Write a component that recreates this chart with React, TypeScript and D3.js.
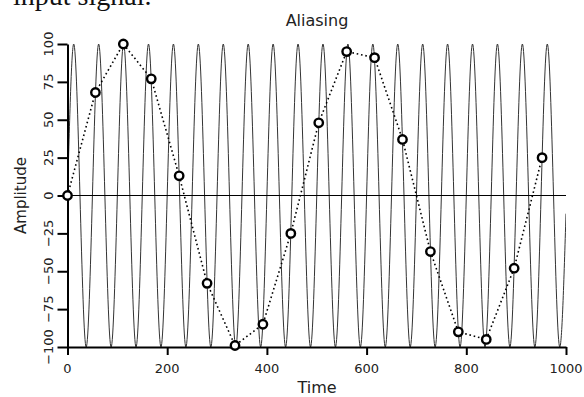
import React, { useEffect, useRef } from 'react';
import * as d3 from 'd3';

// high frequency input (peaks / troughs)
const carrierPeaks = [12.5, 62.5, 112.5, 162.5, 212.5, 262.5, 312.5, 362.5, 412.5, 462.5,
  512.5, 562.5, 612.5, 662.5, 712.5, 762.5, 812.5, 862.5, 912.5, 962.5];
const carrierTroughs = [37.5, 87.5, 137.5, 187.5, 237.5, 287.5, 337.5, 387.5, 437.5, 487.5,
  537.5, 587.5, 637.5, 687.5, 737.5, 787.5, 837.5, 887.5, 937.5, 987.5];
const carrierStart = { t: 0, v: 0 };
const carrierEnd = { t: 1000, v: -12 };

// samples (circles)
const sampleTimes = [0, 56, 112, 168, 224, 280, 336, 392, 448, 504, 560, 616, 672, 728, 784, 840, 896, 952];
const sampleValues = [0, 68, 100, 77, 13, -58, -99, -85, -25, 48, 95, 91, 37, -37, -90, -95, -48, 25];

const xTicks = [0, 200, 400, 600, 800, 1000];
const yTicks = [-100, -75, -50, -25, 0, 25, 50, 75, 100];

const W = 584, H = 397;
const font = '"DejaVu Sans", sans-serif';

export default function App() {
  const ref = useRef<SVGSVGElement>(null);

  useEffect(() => {
    const svg = d3.select(ref.current);
    svg.selectAll('*').remove();

    const x = d3.scaleLinear().domain([0, 1000]).range([67.5, 566]);
    const y = d3.scaleLinear().domain([-100, 100]).range([347, 44]);

    // cropped text from the page above
    svg.append('text')
      .attr('x', 13).attr('y', 5)
      .attr('font-family', '"Liberation Serif", serif')
      .attr('font-size', 28)
      .attr('fill', '#111')
      .text('input signal.');

    svg.append('defs').append('clipPath').attr('id', 'plotClip')
      .append('rect')
      .attr('x', x(0)).attr('y', y(100) - 2)
      .attr('width', x(1000) - x(0)).attr('height', y(-100) - y(100) + 4);

    // carrier wave
    let pts: { t: number, v: number }[] = [carrierStart];
    carrierPeaks.forEach((p) => pts.push({ t: p, v: 100 }));
    carrierTroughs.forEach((p) => pts.push({ t: p, v: -100 }));
    pts.push(carrierEnd);
    pts.sort((a, b) => a.t - b.t);
    const wave = d3.line<{ t: number, v: number }>()
      .x(d => x(d.t)).y(d => y(d.v))
      .curve(d3.curveMonotoneX);
    svg.append('path')
      .attr('clip-path', 'url(#plotClip)')
      .attr('d', wave(pts))
      .attr('fill', 'none')
      .attr('stroke', '#333')
      .attr('stroke-width', 1);

    // zero line
    svg.append('line')
      .attr('x1', x(0)).attr('x2', x(1000))
      .attr('y1', y(0)).attr('y2', y(0))
      .attr('stroke', '#000').attr('stroke-width', 1);

    // dotted line through samples
    const samples = sampleTimes.map((t, i) => ({ t, v: sampleValues[i] }));
    const sLine = d3.line<{ t: number, v: number }>().x(d => x(d.t)).y(d => y(d.v));
    svg.append('path')
      .attr('d', sLine(samples))
      .attr('fill', 'none')
      .attr('stroke', '#000')
      .attr('stroke-width', 1.6)
      .attr('stroke-dasharray', '1.6,2.8');

    // axes
    const gx = svg.append('g').attr('transform', `translate(0,${y(-100)})`)
      .call(d3.axisBottom(x).tickValues(xTicks).tickSize(8).tickSizeOuter(0).tickFormat(() => ''));
    const gy = svg.append('g').attr('transform', `translate(${x(0)},0)`)
      .call(d3.axisLeft(y).tickValues(yTicks).tickSize(10).tickSizeOuter(0).tickFormat(() => ''));
    [gx, gy].forEach(g => {
      g.select('.domain').attr('stroke', '#000').attr('stroke-width', 2);
      g.selectAll('.tick line').attr('stroke', '#000').attr('stroke-width', 2);
    });

    svg.append('g').selectAll('text').data(xTicks).enter().append('text')
      .attr('x', d => x(d)).attr('y', 373)
      .attr('text-anchor', 'middle')
      .attr('font-family', font).attr('font-size', 13)
      .attr('fill', '#222')
      .text(d => d);

    svg.append('g').selectAll('text').data(yTicks).enter().append('text')
      .attr('transform', d => `translate(53,${y(d)}) rotate(-90)`)
      .attr('text-anchor', 'middle')
      .attr('font-family', font).attr('font-size', 13)
      .attr('fill', '#222')
      .text(d => d < 0 ? '\u2212' + Math.abs(d) : d);

    // sample circles
    svg.append('g').selectAll('circle').data(samples).enter().append('circle')
      .attr('cx', d => x(d.t)).attr('cy', d => y(d.v))
      .attr('r', 4.2)
      .attr('fill', '#fff')
      .attr('stroke', '#000')
      .attr('stroke-width', 2.4);

    // titles
    svg.append('text')
      .attr('x', 317).attr('y', 26)
      .attr('text-anchor', 'middle')
      .attr('font-family', font).attr('font-size', 16)
      .attr('fill', '#222')
      .text('Aliasing');
    svg.append('text')
      .attr('x', 317).attr('y', 393)
      .attr('text-anchor', 'middle')
      .attr('font-family', font).attr('font-size', 16)
      .attr('fill', '#222')
      .text('Time');
    svg.append('text')
      .attr('transform', `translate(26,${y(0)}) rotate(-90)`)
      .attr('text-anchor', 'middle')
      .attr('font-family', font).attr('font-size', 15)
      .attr('fill', '#222')
      .text('Amplitude');
  }, []);

  return (
    <svg ref={ref} width={W} height={H}
      style={{ position: 'absolute', left: 0, top: 0, background: '#fff' }} />
  );
}
